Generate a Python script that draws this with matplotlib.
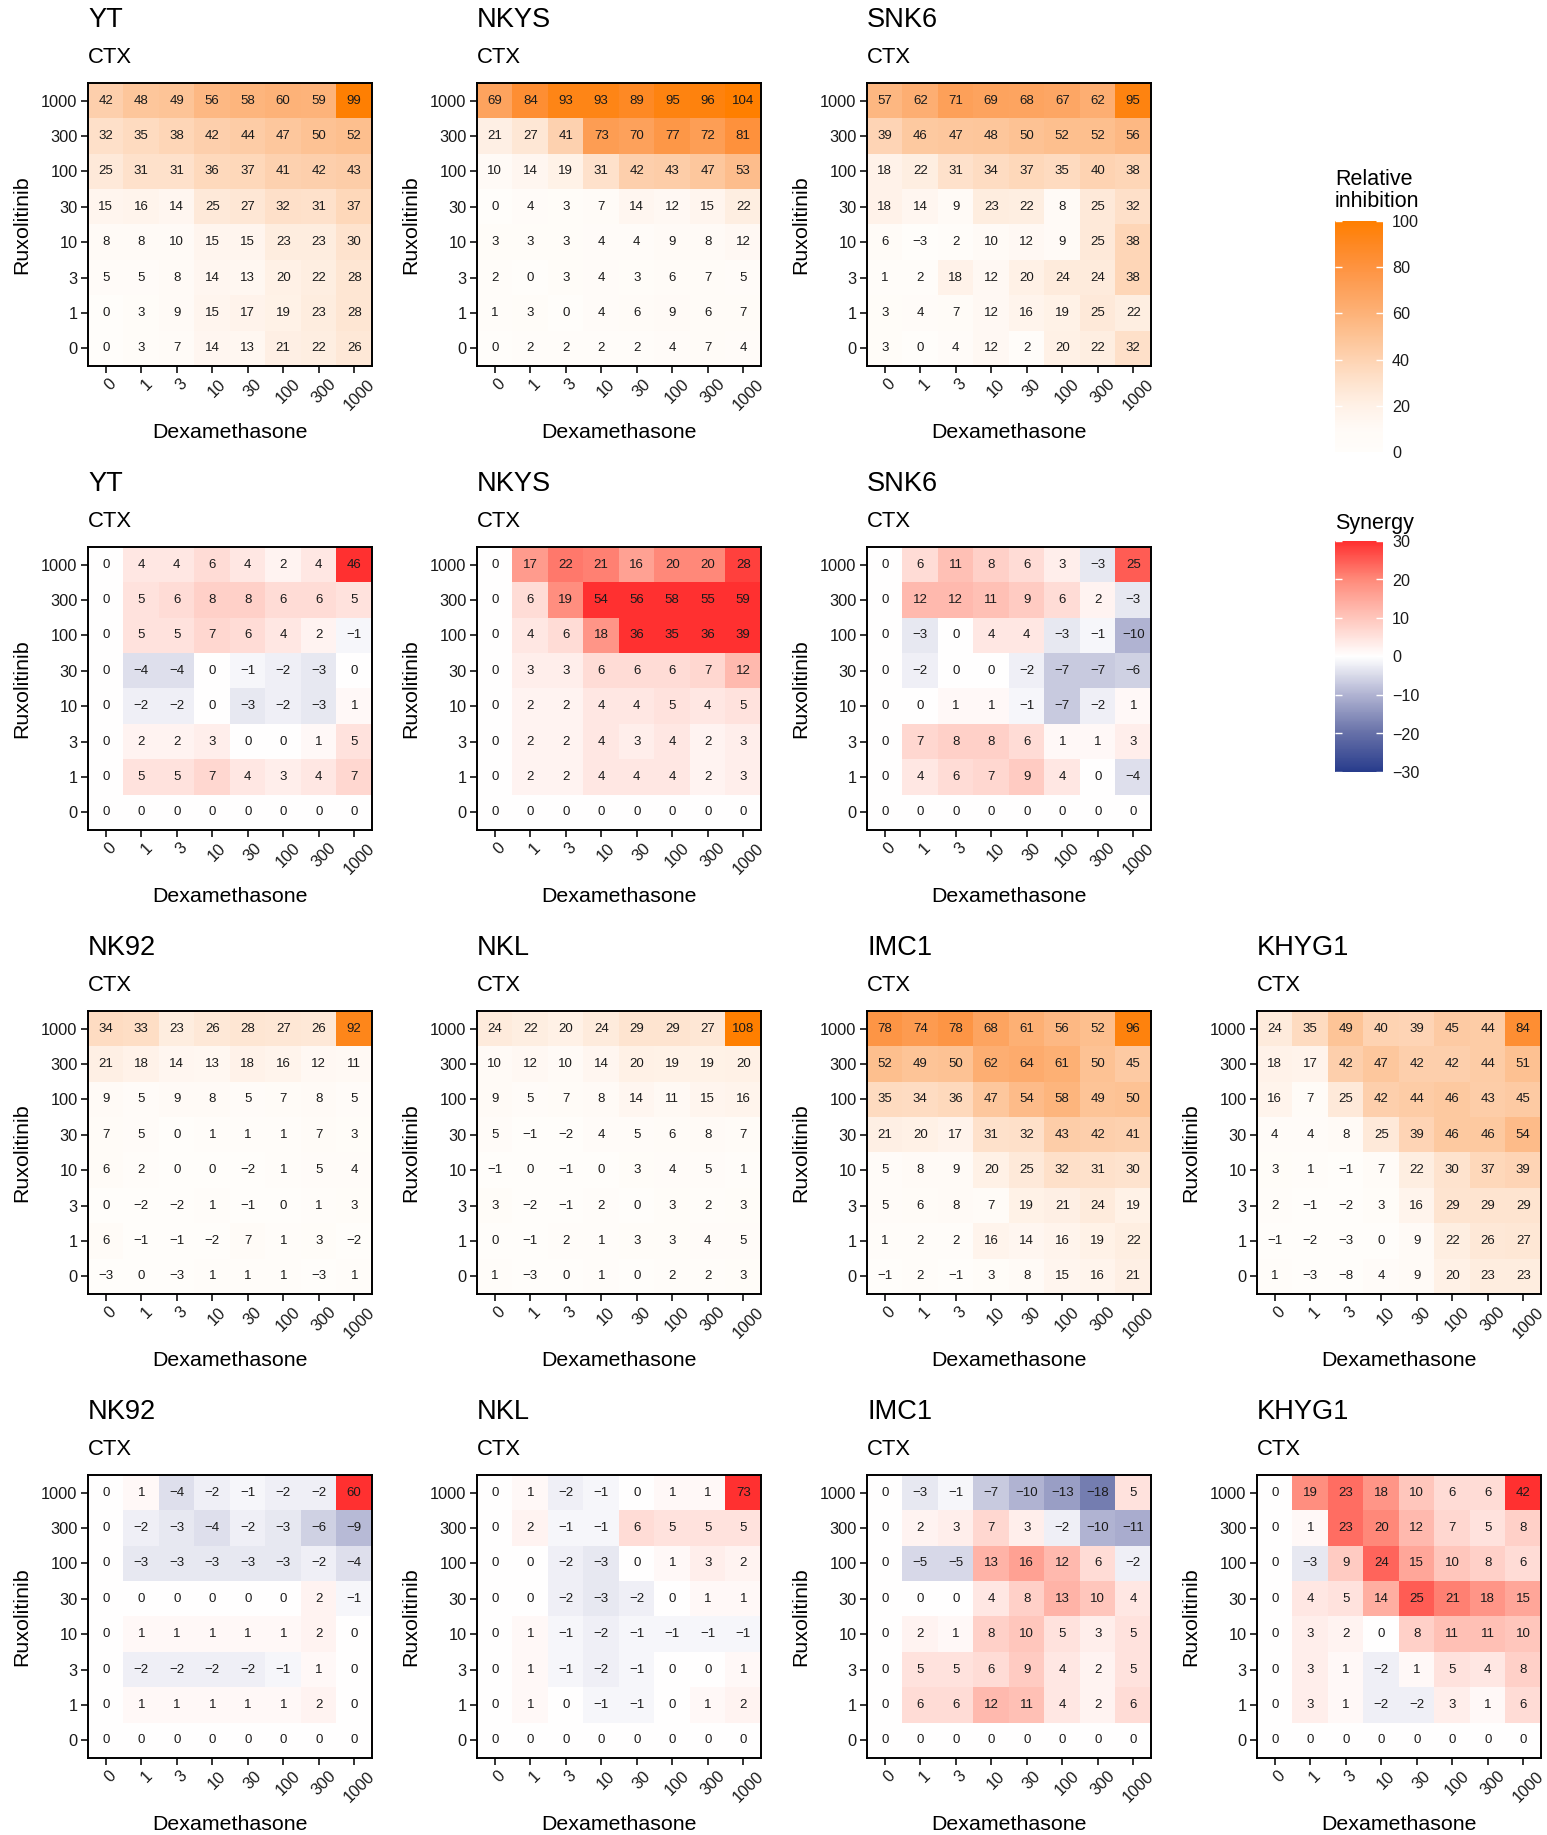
import matplotlib
matplotlib.use("Agg")
import matplotlib.pyplot as plt
import numpy as np
from matplotlib.colors import LinearSegmentedColormap, Normalize
from matplotlib.cm import ScalarMappable
from matplotlib.transforms import ScaledTranslation

plt.rcParams['font.family'] = ['Liberation Sans', 'DejaVu Sans']

# doses: columns = dexamethasone, rows = ruxolitinib (top -> bottom)
dex_doses = ["0", "1", "3", "10", "30", "100", "300", "1000"]
rux_doses = ["1000", "300", "100", "30", "10", "3", "1", "0"]

# relative inhibition
yt_inh = [[42, 48, 49, 56, 58, 60, 59, 99],
          [32, 35, 38, 42, 44, 47, 50, 52],
          [25, 31, 31, 36, 37, 41, 42, 43],
          [15, 16, 14, 25, 27, 32, 31, 37],
          [8, 8, 10, 15, 15, 23, 23, 30],
          [5, 5, 8, 14, 13, 20, 22, 28],
          [0, 3, 9, 15, 17, 19, 23, 28],
          [0, 3, 7, 14, 13, 21, 22, 26]]
nkys_inh = [[69, 84, 93, 93, 89, 95, 96, 104],
            [21, 27, 41, 73, 70, 77, 72, 81],
            [10, 14, 19, 31, 42, 43, 47, 53],
            [0, 4, 3, 7, 14, 12, 15, 22],
            [3, 3, 3, 4, 4, 9, 8, 12],
            [2, 0, 3, 4, 3, 6, 7, 5],
            [1, 3, 0, 4, 6, 9, 6, 7],
            [0, 2, 2, 2, 2, 4, 7, 4]]
snk6_inh = [[57, 62, 71, 69, 68, 67, 62, 95],
            [39, 46, 47, 48, 50, 52, 52, 56],
            [18, 22, 31, 34, 37, 35, 40, 38],
            [18, 14, 9, 23, 22, 8, 25, 32],
            [6, -3, 2, 10, 12, 9, 25, 38],
            [1, 2, 18, 12, 20, 24, 24, 38],
            [3, 4, 7, 12, 16, 19, 25, 22],
            [3, 0, 4, 12, 2, 20, 22, 32]]
nk92_inh = [[34, 33, 23, 26, 28, 27, 26, 92],
            [21, 18, 14, 13, 18, 16, 12, 11],
            [9, 5, 9, 8, 5, 7, 8, 5],
            [7, 5, 0, 1, 1, 1, 7, 3],
            [6, 2, 0, 0, -2, 1, 5, 4],
            [0, -2, -2, 1, -1, 0, 1, 3],
            [6, -1, -1, -2, 7, 1, 3, -2],
            [-3, 0, -3, 1, 1, 1, -3, 1]]
nkl_inh = [[24, 22, 20, 24, 29, 29, 27, 108],
           [10, 12, 10, 14, 20, 19, 19, 20],
           [9, 5, 7, 8, 14, 11, 15, 16],
           [5, -1, -2, 4, 5, 6, 8, 7],
           [-1, 0, -1, 0, 3, 4, 5, 1],
           [3, -2, -1, 2, 0, 3, 2, 3],
           [0, -1, 2, 1, 3, 3, 4, 5],
           [1, -3, 0, 1, 0, 2, 2, 3]]
imc1_inh = [[78, 74, 78, 68, 61, 56, 52, 96],
            [52, 49, 50, 62, 64, 61, 50, 45],
            [35, 34, 36, 47, 54, 58, 49, 50],
            [21, 20, 17, 31, 32, 43, 42, 41],
            [5, 8, 9, 20, 25, 32, 31, 30],
            [5, 6, 8, 7, 19, 21, 24, 19],
            [1, 2, 2, 16, 14, 16, 19, 22],
            [-1, 2, -1, 3, 8, 15, 16, 21]]
khyg1_inh = [[24, 35, 49, 40, 39, 45, 44, 84],
             [18, 17, 42, 47, 42, 42, 44, 51],
             [16, 7, 25, 42, 44, 46, 43, 45],
             [4, 4, 8, 25, 39, 46, 46, 54],
             [3, 1, -1, 7, 22, 30, 37, 39],
             [2, -1, -2, 3, 16, 29, 29, 29],
             [-1, -2, -3, 0, 9, 22, 26, 27],
             [1, -3, -8, 4, 9, 20, 23, 23]]

# synergy
yt_syn = [[0, 4, 4, 6, 4, 2, 4, 46],
          [0, 5, 6, 8, 8, 6, 6, 5],
          [0, 5, 5, 7, 6, 4, 2, -1],
          [0, -4, -4, 0, -1, -2, -3, 0],
          [0, -2, -2, 0, -3, -2, -3, 1],
          [0, 2, 2, 3, 0, 0, 1, 5],
          [0, 5, 5, 7, 4, 3, 4, 7],
          [0, 0, 0, 0, 0, 0, 0, 0]]
nkys_syn = [[0, 17, 22, 21, 16, 20, 20, 28],
            [0, 6, 19, 54, 56, 58, 55, 59],
            [0, 4, 6, 18, 36, 35, 36, 39],
            [0, 3, 3, 6, 6, 6, 7, 12],
            [0, 2, 2, 4, 4, 5, 4, 5],
            [0, 2, 2, 4, 3, 4, 2, 3],
            [0, 2, 2, 4, 4, 4, 2, 3],
            [0, 0, 0, 0, 0, 0, 0, 0]]
snk6_syn = [[0, 6, 11, 8, 6, 3, -3, 25],
            [0, 12, 12, 11, 9, 6, 2, -3],
            [0, -3, 0, 4, 4, -3, -1, -10],
            [0, -2, 0, 0, -2, -7, -7, -6],
            [0, 0, 1, 1, -1, -7, -2, 1],
            [0, 7, 8, 8, 6, 1, 1, 3],
            [0, 4, 6, 7, 9, 4, 0, -4],
            [0, 0, 0, 0, 0, 0, 0, 0]]
nk92_syn = [[0, 1, -4, -2, -1, -2, -2, 60],
            [0, -2, -3, -4, -2, -3, -6, -9],
            [0, -3, -3, -3, -3, -3, -2, -4],
            [0, 0, 0, 0, 0, 0, 2, -1],
            [0, 1, 1, 1, 1, 1, 2, 0],
            [0, -2, -2, -2, -2, -1, 1, 0],
            [0, 1, 1, 1, 1, 1, 2, 0],
            [0, 0, 0, 0, 0, 0, 0, 0]]
nkl_syn = [[0, 1, -2, -1, 0, 1, 1, 73],
           [0, 2, -1, -1, 6, 5, 5, 5],
           [0, 0, -2, -3, 0, 1, 3, 2],
           [0, 0, -2, -3, -2, 0, 1, 1],
           [0, 1, -1, -2, -1, -1, -1, -1],
           [0, 1, -1, -2, -1, 0, 0, 1],
           [0, 1, 0, -1, -1, 0, 1, 2],
           [0, 0, 0, 0, 0, 0, 0, 0]]
imc1_syn = [[0, -3, -1, -7, -10, -13, -18, 5],
            [0, 2, 3, 7, 3, -2, -10, -11],
            [0, -5, -5, 13, 16, 12, 6, -2],
            [0, 0, 0, 4, 8, 13, 10, 4],
            [0, 2, 1, 8, 10, 5, 3, 5],
            [0, 5, 5, 6, 9, 4, 2, 5],
            [0, 6, 6, 12, 11, 4, 2, 6],
            [0, 0, 0, 0, 0, 0, 0, 0]]
khyg1_syn = [[0, 19, 23, 18, 10, 6, 6, 42],
             [0, 1, 23, 20, 12, 7, 5, 8],
             [0, -3, 9, 24, 15, 10, 8, 6],
             [0, 4, 5, 14, 25, 21, 18, 15],
             [0, 3, 2, 0, 8, 11, 11, 10],
             [0, 3, 1, -2, 1, 5, 4, 8],
             [0, 3, 1, -2, -2, 3, 1, 6],
             [0, 0, 0, 0, 0, 0, 0, 0]]

inh_cmap = LinearSegmentedColormap.from_list("inh", [
    (0.0, "#FFFDFA"), (0.1, "#FFFAF6"), (0.2, "#FFF1E6"), (0.3, "#FEE3CE"),
    (0.4, "#FED3B2"), (0.5, "#FDC395"), (0.6, "#FDB278"), (0.7, "#FDA25C"),
    (0.8, "#FE9340"), (0.9, "#FE8822"), (1.0, "#FF7F00")])
inh_norm = Normalize(0, 100)
syn_cmap = LinearSegmentedColormap.from_list("syn", [
    (0.0, "#283C8C"), (1 / 6, "#6670A8"), (2 / 6, "#B0B3D2"), (0.5, "#FFFFFF"),
    (4 / 6, "#FFC6BC"), (5 / 6, "#FF8A7A"), (1.0, "#FF3030")])
syn_norm = Normalize(-30, 30)

W, H = 1547, 1835
fig = plt.figure(figsize=(W / 100, H / 100), dpi=100)

col_x = [88, 477, 867, 1257]
row_y = [83, 547, 1011, 1475]
AW, AH = 284, 283


def px_axes(x, y, w, h):
    return fig.add_axes([x / W, 1 - (y + h) / H, w / W, h / H])


def fmt(v):
    return str(v).replace('-', '\u2212')


def heatmap(x, y, title, vals, cmap, norm):
    ax = px_axes(x, y, AW, AH)
    vals = np.array(vals)
    ax.imshow(vals, cmap=cmap, norm=norm, aspect='auto', interpolation='nearest')
    for i in range(vals.shape[0]):
        for j in range(vals.shape[1]):
            ax.text(j, i, fmt(vals[i, j]), ha='center', va='center',
                    fontsize=9.5, color='#1a1a1a')
    ax.set_xticks(range(len(dex_doses)))
    ax.set_xticklabels(dex_doses, rotation=45, ha='center', va='top')
    ax.set_yticks(range(len(rux_doses)))
    ax.set_yticklabels(rux_doses)
    ax.tick_params(length=5, width=1.4, color='#333333', labelsize=11.8,
                   labelcolor='#1a1a1a', pad=2.5)
    shift = ScaledTranslation(5 / 100, 0, fig.dpi_scale_trans)
    for lab in ax.get_xticklabels():
        lab.set_transform(lab.get_transform() + shift)
    for s in ax.spines.values():
        s.set_linewidth(1.4)
    ax.annotate(title, (0, 1), xycoords='axes fraction', xytext=(0, 56),
                textcoords='offset pixels', ha='left', va='baseline', fontsize=19.6)
    ax.annotate('CTX', (0, 1), xycoords='axes fraction', xytext=(0, 20),
                textcoords='offset pixels', ha='left', va='baseline', fontsize=15.8)
    ax.annotate('Dexamethasone', (0.5, 0), xycoords='axes fraction', xytext=(0, -72),
                textcoords='offset pixels', ha='center', va='baseline', fontsize=15.4)
    ax.annotate('Ruxolitinib', (0, 0.5), xycoords='axes fraction', xytext=(-61, 0),
                textcoords='offset pixels', rotation=90, rotation_mode='anchor',
                ha='center', va='baseline', fontsize=15.4)
    return ax


panels = [
    (0, 0, "YT", yt_inh, inh_cmap, inh_norm),
    (1, 0, "NKYS", nkys_inh, inh_cmap, inh_norm),
    (2, 0, "SNK6", snk6_inh, inh_cmap, inh_norm),
    (0, 1, "YT", yt_syn, syn_cmap, syn_norm),
    (1, 1, "NKYS", nkys_syn, syn_cmap, syn_norm),
    (2, 1, "SNK6", snk6_syn, syn_cmap, syn_norm),
    (0, 2, "NK92", nk92_inh, inh_cmap, inh_norm),
    (1, 2, "NKL", nkl_inh, inh_cmap, inh_norm),
    (2, 2, "IMC1", imc1_inh, inh_cmap, inh_norm),
    (3, 2, "KHYG1", khyg1_inh, inh_cmap, inh_norm),
    (0, 3, "NK92", nk92_syn, syn_cmap, syn_norm),
    (1, 3, "NKL", nkl_syn, syn_cmap, syn_norm),
    (2, 3, "IMC1", imc1_syn, syn_cmap, syn_norm),
    (3, 3, "KHYG1", khyg1_syn, syn_cmap, syn_norm),
]
for c, r, title, vals, cmap, norm in panels:
    heatmap(col_x[c], row_y[r], title, vals, cmap, norm)


def colorbar(y, h, cmap, norm, ticks, titles):
    cax = px_axes(1335, y, 48, h)
    cb = fig.colorbar(ScalarMappable(norm=norm, cmap=cmap), cax=cax, ticks=ticks)
    cb.outline.set_visible(False)
    cax.tick_params(axis='y', direction='in', length=5, width=1, color='white',
                    left=True, right=True, labelleft=False, labelright=True,
                    labelsize=11.6, labelcolor='#1a1a1a', pad=6.5)
    for text, off in titles:
        cax.annotate(text, (0, 1), xycoords='axes fraction', xytext=(0, off),
                     textcoords='offset pixels', ha='left', va='baseline', fontsize=15.5)


colorbar(221, 231, inh_cmap, inh_norm, [0, 20, 40, 60, 80, 100],
         [("Relative", 36), ("inhibition", 14)])
colorbar(541, 231, syn_cmap, syn_norm, [-30, -20, -10, 0, 10, 20, 30],
         [("Synergy", 12)])

fig.savefig("out.png", dpi=100, facecolor='white')
